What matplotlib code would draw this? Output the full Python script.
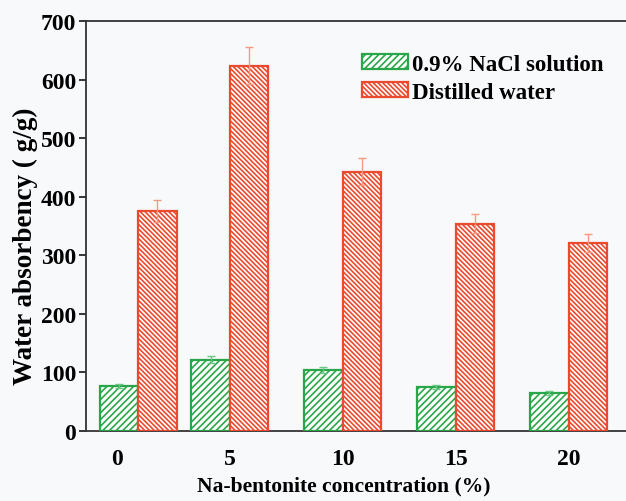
import numpy as np
import matplotlib
matplotlib.use("Agg")
import matplotlib.pyplot as plt

plt.rcParams['font.family'] = ['Liberation Serif', 'DejaVu Serif']
plt.rcParams['font.weight'] = 'bold'
plt.rcParams['hatch.linewidth'] = 1.2

# water absorbency (g/g) vs Na-bentonite concentration (%)
conc = [0, 5, 10, 15, 20]
nacl = [77, 122, 104, 75, 65]
nacl_err = [4, 6, 5, 3, 3]
water = [376, 624, 443, 354, 321]
water_err = [19, 32, 23, 16, 15]

green = '#2aa64a'
red = '#ec4a2e'
bg = '#f8f9fb'

w = 1.7
shift = np.array([0.95, 0, 0, 0, 0])  # first pair is nudged off the y axis
x = np.array(conc) + shift

fig = plt.figure(figsize=(6.26, 5.02), dpi=100, facecolor=bg)
ax = fig.add_axes([0.1374, 0.1394, 0.8626, 0.8167])
ax.set_facecolor(bg)

ax.bar(x - w / 2, nacl, width=w, facecolor='white', edgecolor=green,
       hatch='/////', linewidth=1.6, label='0.9% NaCl solution', zorder=3)
ax.bar(x + w / 2, water, width=w, facecolor='white', edgecolor=red,
       hatch='\\' * 7, linewidth=1.6, label='Distilled water', zorder=3)
ax.errorbar(x - w / 2, nacl, yerr=nacl_err, fmt='none', ecolor='#6cc685',
            elinewidth=1, capsize=3, zorder=4)
ax.errorbar(x + w / 2, water, yerr=water_err, fmt='none', ecolor='#f39a80',
            elinewidth=1, capsize=3, zorder=4)

ax.set_xlim(-1.36, 22.54)
ax.set_ylim(0, 700)
ax.set_xticks(conc)
ax.set_yticks(range(0, 701, 100))
ax.tick_params(axis='x', direction='in', length=6, width=1.1, labelsize=17, pad=12)
ax.tick_params(axis='y', direction='out', length=5, width=1.1, labelsize=17, pad=2)
for s in ['left', 'bottom', 'top']:
    ax.spines[s].set_linewidth(1.3)
    ax.spines[s].set_color('#333333')
ax.spines['right'].set_visible(False)

ax.set_xlabel('Na-bentonite concentration (%)', fontsize=15.5, fontweight='bold')
ax.xaxis.set_label_coords(0.478, -0.108)
ax.set_ylabel('Water absorbency ( g/g)', fontsize=19.5, fontweight='bold')
ax.yaxis.set_label_coords(-0.088, 0.454)

ax.legend(loc='upper left', bbox_to_anchor=(0.511, 0.92), frameon=False,
          fontsize=16.5, handlelength=2.0, handleheight=0.65,
          handletextpad=0.2, labelspacing=0.3, borderaxespad=0,
          borderpad=0)

fig.savefig('out.png', dpi=100, facecolor=bg)
